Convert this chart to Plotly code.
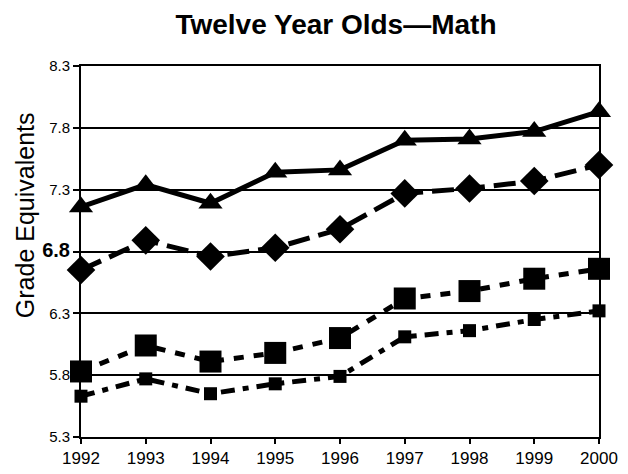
import plotly.graph_objects as go

years = [1992, 1993, 1994, 1995, 1996, 1997, 1998, 1999, 2000]
triangle_vals = [7.16, 7.34, 7.19, 7.44, 7.46, 7.70, 7.71, 7.77, 7.93]
diamond_vals = [6.65, 6.89, 6.76, 6.83, 6.98, 7.27, 7.31, 7.37, 7.50]
big_square_vals = [5.83, 6.04, 5.91, 5.98, 6.10, 6.42, 6.48, 6.58, 6.66]
small_square_vals = [5.63, 5.77, 5.65, 5.73, 5.79, 6.11, 6.16, 6.25, 6.32]
y_ticks = [5.3, 5.8, 6.3, 6.8, 7.3, 7.8, 8.3]
y_tick_labels = ["5.3", "5.8", "6.3", "<span style='font-size:20px'><b>6.8</b></span>",
                 "7.3", "7.8", "8.3"]

fig = go.Figure()
fig.add_trace(go.Scatter(x=years, y=small_square_vals, mode="lines+markers",
                         line=dict(color="black", width=5, dash="14px,8px,6px,8px"),
                         marker=dict(symbol="square", size=13, color="black"), cliponaxis=False))
fig.add_trace(go.Scatter(x=years, y=big_square_vals, mode="lines+markers",
                         line=dict(color="black", width=5, dash="10px,10px"),
                         marker=dict(symbol="square", size=22, color="black"), cliponaxis=False))
fig.add_trace(go.Scatter(x=years, y=diamond_vals, mode="lines+markers",
                         line=dict(color="black", width=5, dash="22px,9px"),
                         marker=dict(symbol="diamond", size=22, color="black"), cliponaxis=False))
fig.add_trace(go.Scatter(x=years, y=triangle_vals, mode="lines+markers",
                         line=dict(color="black", width=5),
                         marker=dict(symbol="triangle-up", size=21, color="black"), cliponaxis=False))

fig.update_layout(
    width=620, height=466,
    margin=dict(l=73, r=29, t=58, b=37, autoexpand=False),
    paper_bgcolor="white", plot_bgcolor="white",
    showlegend=False,
    font=dict(family="Liberation Sans, Arial, sans-serif", color="black"),
    title=dict(text="<b>Twelve Year Olds—Math</b>", x=0.529, xanchor="center",
               y=0.966, yanchor="middle", font=dict(size=28, color="black")),
    annotations=[dict(text="Grade Equivalents", xref="paper", yref="paper",
                      x=-0.108, y=0.598, xanchor="center", yanchor="middle",
                      textangle=-90, showarrow=False,
                      font=dict(size=25, color="black"))],
)
fig.update_xaxes(range=[1992, 2000], tickvals=years, ticks="outside", ticklen=5,
                 tickwidth=2, tickcolor="black", showgrid=False, zeroline=False,
                 showline=True, linecolor="black", linewidth=2, mirror=True,
                 tickfont=dict(family="Liberation Sans Narrow, Arial Narrow, sans-serif",
                               size=17, color="black"))
fig.update_yaxes(range=[5.3, 8.3], tickvals=y_ticks, ticktext=y_tick_labels,
                 ticks="outside", ticklen=6, tickwidth=2, tickcolor="black",
                 showgrid=True, gridcolor="black", gridwidth=2, zeroline=False,
                 showline=True, linecolor="black", linewidth=2, mirror=True,
                 tickfont=dict(size=15, color="black"))
fig.write_html("out.html")
